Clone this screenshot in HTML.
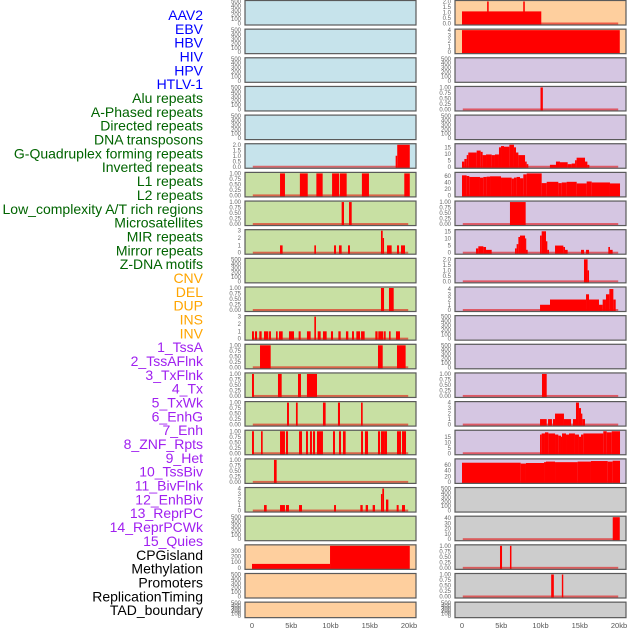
<!DOCTYPE html>
<html><head><meta charset="utf-8"><style>
html,body{margin:0;padding:0;background:#fff;}
svg{display:block;font-family:"Liberation Sans",sans-serif;}
</style></head><body>
<svg id="chart" width="630" height="630" viewBox="0 0 630 630" xmlns="http://www.w3.org/2000/svg"></svg>
<script>
const labelNames = ["AAV2","EBV","HBV","HIV","HPV","HTLV-1","Alu repeats","A-Phased repeats","Directed repeats","DNA transposons","G-Quadruplex forming repeats","Inverted repeats","L1 repeats","L2 repeats","Low_complexity A/T rich regions","Microsatellites","MIR repeats","Mirror repeats","Z-DNA motifs","CNV","DEL","DUP","INS","INV","1_TssA","2_TssAFlnk","3_TxFlnk","4_Tx","5_TxWk","6_EnhG","7_Enh","8_ZNF_Rpts","9_Het","10_TssBiv","11_BivFlnk","12_EnhBiv","13_ReprPC","14_ReprPCWk","15_Quies","CPGisland","Methylation","Promoters","ReplicationTiming","TAD_boundary"];
const labelGroups = [0,0,0,0,0,0,1,1,1,1,1,1,1,1,1,1,1,1,1,2,2,2,2,2,3,3,3,3,3,3,3,3,3,3,3,3,3,3,3,4,4,4,4,4];
const xTickValues = [0,5,10,15,20];
const xTickLabels = ["0","5kb","10kb","15kb","20kb"];

const t500 = ["0","100","200","300","400","500"];
const t1 = ["0.00","0.25","0.50","0.75","1.00"];
const t2 = ["0.0","0.5","1.0","1.5","2.0"];
const t3 = ["0","1","2","3"];
const t4 = ["0","1","2","3","4"];
const t15 = ["0","5","10","15"];
const t60 = ["0","20","40","60"];
const t40 = ["0","10","20","30","40"];
const t300 = ["0","100","200","300"];

// bars: [startKb, endKb, value]
const barsL5 = [[18.3,18.5,1],[18.5,20.1,2]];
const barsL6 = [[3.57,4.2,1],[6.1,7.1,1],[8.2,9.0,1],[10.2,11.1,1],[11.2,12.06,1],[14.0,14.9,1],[19.4,20.1,1]];
const barsL7 = [[11.42,11.72,1],[12.36,12.7,1]];
const barsL8 = [[3.57,3.9,1],[7.94,8.15,1],[10.45,10.7,1],[11.08,11.42,1],[12.23,12.48,1],[16.43,16.65,3],[16.65,16.82,2],[17.2,17.79,1],[18.47,18.73,1],[18.98,19.49,1]];
const barsL10 = [[16.43,16.82,1],[17.45,18.05,1]];
const barsL11 = [[0,0.25,1],[0.38,0.64,1],[0.93,1.23,1],[1.53,2.08,1],[2.17,2.42,1],[3.06,3.27,1],[3.44,3.91,1],[4.71,5.35,1],[5.94,6.2,1],[7.0,7.47,1],[7.94,8.15,3],[8.37,8.75,1],[9.04,9.51,1],[10.06,10.32,1],[11.0,11.3,1],[11.97,12.27,1],[12.74,12.99,1],[13.29,13.76,1],[13.89,14.35,1],[15.71,16.0,1],[16.09,16.73,1],[16.82,17.03,1],[17.45,17.66,1],[18.34,18.85,1]];
const barsL12 = [[1.02,2.38,1],[16.05,16.65,1],[18.47,19.57,1]];
const barsL13 = [[0,0.25,1],[3.31,3.78,1],[5.86,6.24,1],[7.0,8.28,1]];
const barsL14 = [[4.46,4.71,1],[5.6,5.82,1],[9.04,9.38,1],[10.95,11.21,1],[13.89,14.1,1]];
const barsL15 = [[0,0.25,1],[1.15,1.36,1],[3.57,4.2,1],[4.33,4.59,1],[5.99,6.37,1],[6.88,7.13,1],[7.39,7.64,1],[7.77,8.03,1],[8.28,9.04,1],[10.32,10.57,1],[11.08,11.34,1],[11.59,11.93,1],[13.89,14.14,1],[14.39,14.78,1],[16.05,16.31,1],[16.43,16.82,1],[16.82,17.2,1],[18.47,18.98,1],[19.11,19.62,1]];
const barsL16 = [[2.8,3.14,1]];
const barsL17 = [[1.53,1.87,1],[3.57,4.2,1],[4.33,4.71,1],[5.99,6.37,1],[10.45,10.7,1],[13.8,14.1,1],[14.48,14.78,1],[15.37,15.67,1],[16.43,16.6,3],[16.6,16.82,4],[17.07,17.37,2],[18.43,18.68,1],[19.11,19.49,1]];
const barsL19 = [[0,9.94,70],[9.94,20.1,390]];

const barsR0 = [[0,10.1,1.1],[3.2,3.4,2],[7.8,8.0,2]];
const barsR1 = [[0,20.1,4]];
const barsR3 = [[10.0,10.3,1]];
const barsR5 = [[0,0.3,4],[0.3,0.6,6],[0.6,0.8,9],[0.8,1.87,11],[1.87,2.38,12.5],[2.38,2.63,11.5],[2.63,3.06,9],[3.06,3.78,9.5],[3.78,4.2,9],[4.2,4.71,9.5],[4.71,4.97,15],[4.97,5.35,16],[5.35,6.03,15.5],[6.03,6.62,17],[6.62,6.88,15],[6.88,7.18,11],[7.18,8.03,9],[8.03,8.24,4],[8.24,8.45,2],[11.2,11.97,1.5],[11.97,12.48,4],[12.48,13.46,3.5],[13.46,13.97,2],[13.97,14.4,2.5],[14.4,14.6,5],[14.6,15.67,7],[15.67,15.97,4],[15.97,16.22,1.5]];
const barsR6 = [[0,0.59,62],[0.59,0.93,60],[0.93,2.29,57],[2.29,2.72,55],[2.72,3.14,57],[3.14,3.57,58],[3.57,4.97,59],[4.97,6.33,55],[6.33,6.62,52],[6.62,6.96,55],[6.96,7.39,57],[7.39,7.81,53],[7.81,8.24,65],[8.24,10.15,68],[10.15,10.79,38],[10.79,12.27,42],[12.27,12.7,38],[12.7,13.33,40],[13.33,14.61,42],[14.61,15.88,37],[15.88,16.52,43],[16.52,18.85,40],[18.85,20.13,37]];
const barsR7 = [[6.11,8.11,1]];
const barsR8 = [[1.78,2.08,3],[2.08,2.72,4.5],[2.72,3.06,4],[3.06,3.78,2],[6.75,6.96,3],[6.96,7.18,6],[7.18,7.39,11],[7.39,8.03,12],[8.03,8.15,10],[8.15,8.37,2],[9.94,10.15,12],[10.15,10.7,15],[10.7,10.87,8],[10.87,11.08,2],[11.85,12.91,5],[12.91,13.12,4],[13.12,13.46,2],[15.16,15.54,2],[15.8,16.18,2],[18.64,18.85,4],[18.85,19.19,2]];
const barsR9 = [[15.54,16.0,2],[16.0,16.18,1]];
const barsR10 = [[9.94,11.21,1],[11.21,15.8,2],[15.8,16.18,3],[16.18,17.45,2],[17.45,17.92,1],[17.92,18.34,2],[18.34,18.77,3],[18.77,19.28,4],[19.28,19.58,2]];
const barsR13 = [[10.19,10.79,1]];
const barsR14 = [[9.94,10.79,1],[10.96,11.46,1],[11.59,11.85,1],[11.85,12.99,2],[12.99,13.89,1],[14.14,14.52,1],[14.52,14.9,4],[14.9,15.16,3],[15.16,15.33,2],[15.33,15.67,1]];
const barsR15 = [[9.94,10.15,17],[10.15,10.57,18],[10.57,11.0,19],[11.0,11.85,18],[11.85,12.27,17],[12.27,12.61,16],[12.61,12.74,15],[12.74,13.25,18],[13.25,13.63,17],[13.63,14.39,18],[14.39,14.9,17],[14.9,15.16,15],[15.16,15.46,17],[15.46,18.0,18],[18.0,18.43,20],[18.43,19.07,19],[19.07,20.13,20]];
const barsR16 = [[0,7.47,68],[7.47,8.15,65],[8.15,10.45,67],[10.45,10.7,70],[10.7,11.85,72],[11.85,14.73,70],[14.73,16.43,72],[16.43,18.56,74],[18.56,19.19,72],[19.19,20.13,75]];
const barsR18 = [[19.2,20.1,42]];
const barsR19 = [[4.84,5.1,1],[6.11,6.3,1]];
const barsR20 = [[11.36,11.7,1],[12.72,12.9,1]];

const BLUE="#c6e3eb",GREEN="#c8e0a3",ORANGE="#fecf9e",PURPLE="#d5c6e2",GRAY="#cdcdcd";
// [ticks, domainMax, bars, bg]
const leftPanels = [
 [t500,500,null,BLUE],[t500,500,null,BLUE],[t500,500,null,BLUE],[t500,500,null,BLUE],[t500,500,null,BLUE],
 [t2,2,barsL5,BLUE],[t1,1,barsL6,GREEN],[t1,1,barsL7,GREEN],[t3,3,barsL8,GREEN],[t500,500,null,GREEN],
 [t1,1,barsL10,GREEN],[t3,3,barsL11,GREEN],[t1,1,barsL12,GREEN],[t1,1,barsL13,GREEN],[t1,1,barsL14,GREEN],
 [t1,1,barsL15,GREEN],[t1,1,barsL16,GREEN],[t4,4,barsL17,GREEN],[t500,500,null,GREEN],[t300,390,barsL19,ORANGE],
 [t500,500,null,ORANGE],[t500,500,null,ORANGE]];
const rightPanels = [
 [t2,2,barsR0,ORANGE],[t4,4,barsR1,ORANGE],[t500,500,null,PURPLE],[t1,1,barsR3,PURPLE],[t500,500,null,PURPLE],
 [t15,17,barsR5,PURPLE],[t60,68,barsR6,PURPLE],[t1,1,barsR7,PURPLE],[t15,15.4,barsR8,PURPLE],[t2,2,barsR9,PURPLE],
 [t4,4.2,barsR10,PURPLE],[t500,500,null,PURPLE],[t500,500,null,PURPLE],[t1,1,barsR13,PURPLE],[t4,4,barsR14,PURPLE],
 [t15,20,barsR15,PURPLE],[t60,78,barsR16,PURPLE],[t500,500,null,GRAY],[t40,42,barsR18,GRAY],[t1,1,barsR19,GRAY],
 [t1,1,barsR20,GRAY],[t500,500,null,GRAY]];

const NS="http://www.w3.org/2000/svg";
const svg=document.getElementById('chart');
function mk(tag,attrs,parent){const e=document.createElementNS(NS,tag);for(const k in attrs)e.setAttribute(k,attrs[k]);(parent||svg).appendChild(e);return e;}
const groupColors=["#0000ff","#006400","#ffa500","#a020f0","#000000"];
labelNames.forEach((n,i)=>{
  const t=mk('text',{x:203,y:15+i*13.84+5,'text-anchor':'end','font-size':14,fill:groupColors[labelGroups[i]]});
  
  
  t.textContent=n;
});
function drawColumn(panels,px0,colName){
  const W=171, dataX0=px0+7, scale=157/20;
  const xs=kb=>dataX0+kb*scale;
  panels.forEach((p,i)=>{
    const [ticks,dmax,bars,bg]=p;
    const top=i*28.65, h=(i===21)?16:25;
    const g=mk('g',{});
    
    
    mk('rect',{x:px0,y:top,width:W,height:h,fill:bg},g);
    const y0=top+h-1.5, y1=top+1.5;
    const ys=v=>y0-(v/dmax)*(y0-y1);
    if(bars){
      const bl=mk('rect',{x:xs(0.1),y:y0-1,width:xs(19.9)-xs(0.1),height:2,fill:'rgba(230,0,0,0.55)'},g);
      
      
      bars.forEach(b=>{
        const yt=Math.max(top,ys(b[2]));
        const r=mk('rect',{x:xs(b[0]),y:yt,width:Math.max(1.2,xs(b[1])-xs(b[0])),height:top+h-yt,fill:'#ff0000'},g);
        
        
      });
    }
    mk('rect',{x:px0,y:top+0.5,width:W,height:h-0.5,fill:'none',stroke:'#5a5a5a','stroke-width':1.2},g);
    const tmax=parseFloat(ticks[ticks.length-1]);
    ticks.forEach((tl,j)=>{
      const v=parseFloat(tl);
      const tt=mk('text',{x:px0-4,y:ys(v)+2,'text-anchor':'end','font-size':6,fill:'#666'},g);
      
      
      tt.textContent=tl;
    });
  });
  xTickValues.forEach((v,j)=>{
    const t=mk('text',{x:xs(v),y:628,'text-anchor':'middle','font-size':7.5,fill:'#555'});
    
    
    t.textContent=xTickLabels[j];
  });
}
drawColumn(leftPanels,245,'left');
drawColumn(rightPanels,455,'right');
</script>
</body></html>
